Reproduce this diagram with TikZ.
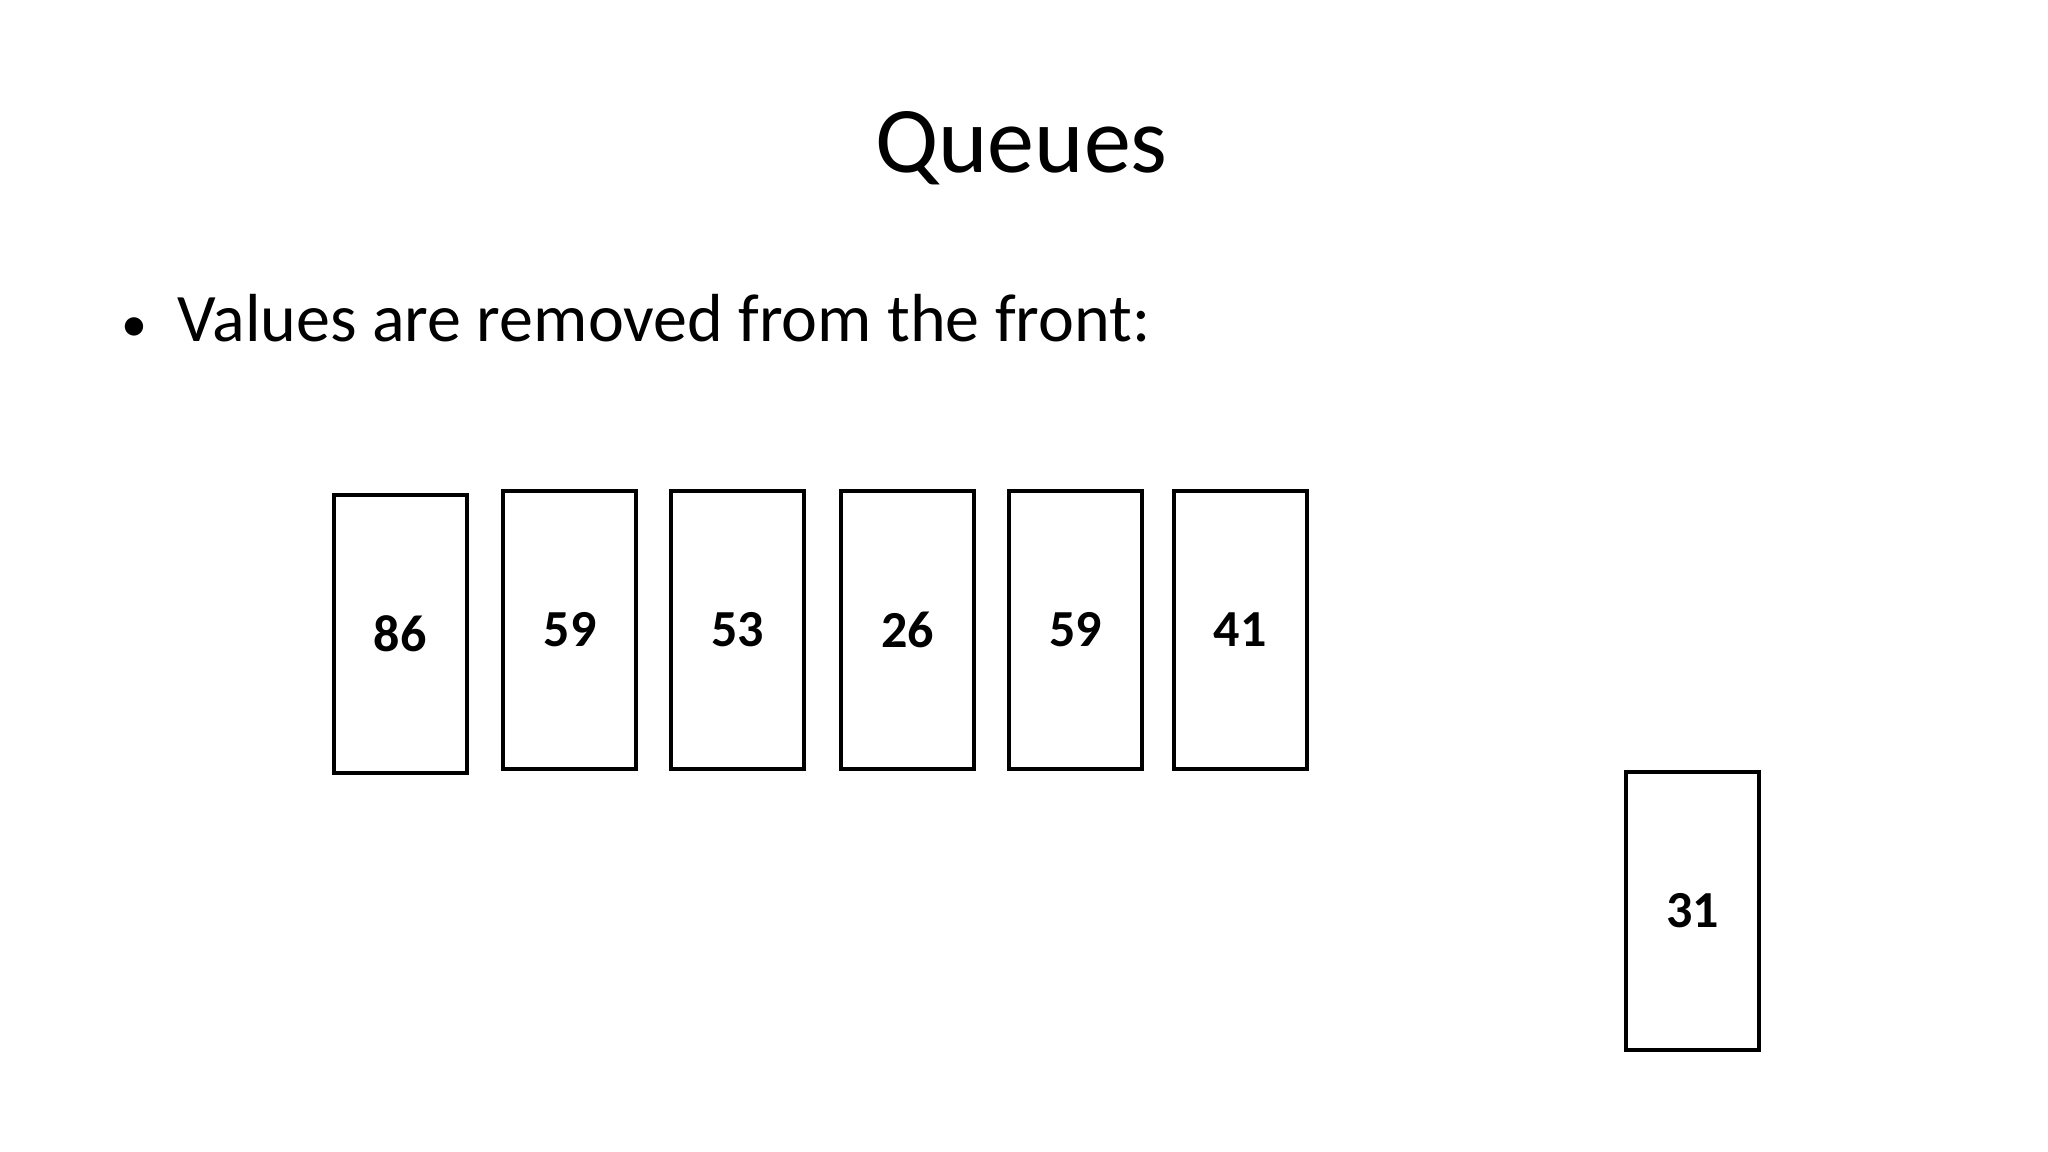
\documentclass[tikz,border=0pt]{standalone}
\usepackage{fontspec}
\setmainfont{Carlito}
\begin{document}
\begin{tikzpicture}[x=0.987pt,y=-0.987pt,
  card/.style={draw,line width=4pt,minimum width=133pt,minimum height=278pt,inner sep=0pt,font=\fontsize{52}{60}\selectfont\bfseries}]
\useasboundingbox (0,0) rectangle (2075,1167);
\node[anchor=base,font=\fontsize{94}{104}\selectfont] (title) at (1035,175) {Queues};
\node[anchor=base west,font=\fontsize{68}{76}\selectfont] (bul) at (120,346) {{\fontsize{52}{60}\selectfont\textbullet}\hspace{30pt}Values are removed from the front:};
\node[card] (a) at (405.5,642) {86};
\node[card] (b) at (577.5,638) {59};
\node[card] (c) at (747.5,638) {53};
\node[card] (d) at (919.5,638) {26};
\node[card] (e) at (1090,638) {59};
\node[card] (f) at (1256.5,638) {41};
\node[card] (g) at (1715,923) {31};
\end{tikzpicture}
\end{document}
